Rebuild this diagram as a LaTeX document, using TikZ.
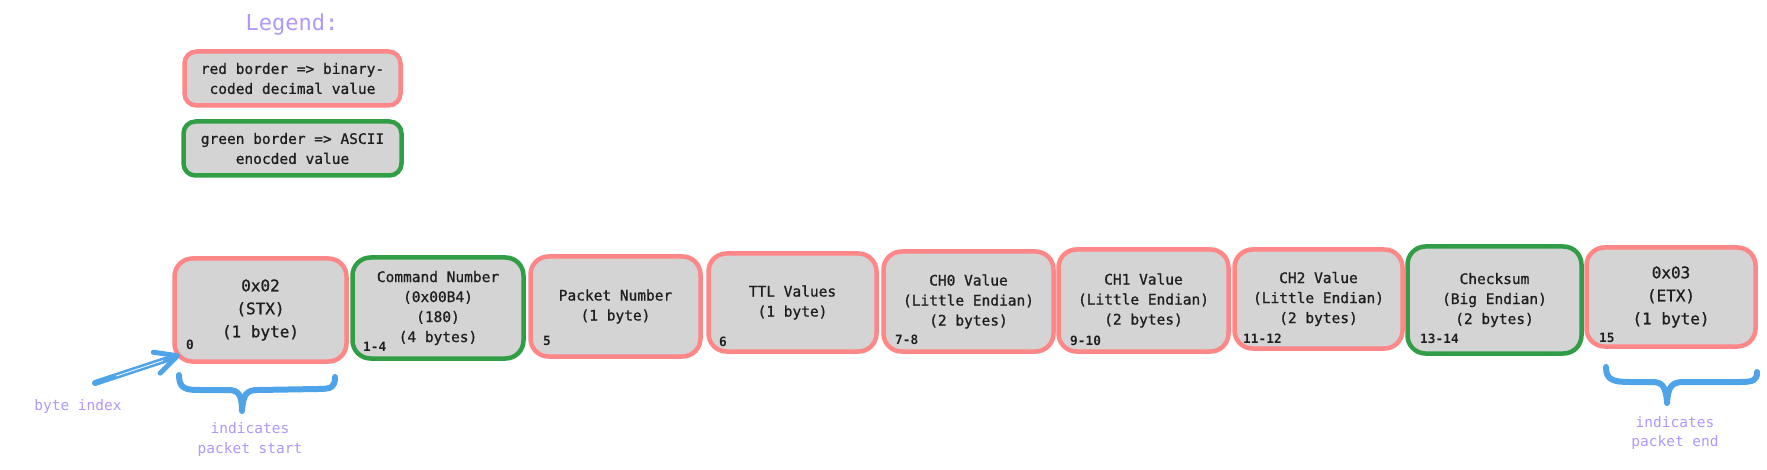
\documentclass[tikz,border=0pt]{standalone}
\usepackage{fontspec}
\newfontfamily\mono{DejaVu Sans Mono}
\newfontfamily\monomed[FakeBold=0.9]{DejaVu Sans Mono}
\usetikzlibrary{arrows.meta,calc}
\definecolor{redb}{HTML}{FF8787}
\definecolor{greenb}{HTML}{2F9E44}
\definecolor{boxfill}{HTML}{D4D4D4}
\definecolor{blueb}{HTML}{4FA3E8}
\definecolor{purp}{HTML}{B197FC}
\definecolor{ink}{HTML}{1E1E1E}
\begin{document}
\begin{tikzpicture}[x=1pt,y=-1pt,
  box/.style={draw, fill=boxfill, line width=4.5pt, rounded corners=18pt, align=center, inner sep=0pt,
    font=\monomed\fontsize{14.5}{20}\selectfont, text=ink},
  redbox/.style={box, draw=redb},
  greenbox/.style={box, draw=greenb},
  bigtext/.style={font=\monomed\fontsize{16}{23}\selectfont},
  idx/.style={anchor=west, inner sep=0pt, font=\mono\bfseries\fontsize{12.8}{14}\selectfont, text=ink},
  note/.style={text=purp, font=\mono\fontsize{14.5}{19.5}\selectfont, align=center, inner sep=0pt},
  brace/.style={draw=blueb, line width=6pt, line cap=round, line join=round}
]
\useasboundingbox (0,0) rectangle (1767,470);

% legend
\node[text=purp, font=\mono\fontsize{22}{26}\selectfont, inner sep=0pt] (legend) at (292,25) {Legend:};
\node[redbox, rounded corners=12pt, minimum width=216pt, minimum height=54pt] (lred) at (292.5,78.5)
  {red border => binary-\\coded decimal value};
\node[greenbox, rounded corners=12pt, minimum width=218pt, minimum height=54pt] (lgreen) at (292.5,148.5)
  {green border => ASCII\\enocded value};

% packet boxes
\node[redbox, bigtext, minimum width=172pt, minimum height=103pt] (b0) at (260.5,310) {0x02\\(STX)\\(1 byte)};
\node[greenbox, minimum width=171pt, minimum height=101pt] (b1) at (438,308) {Command Number\\(0x00B4)\\(180)\\(4 bytes)};
\node[redbox, minimum width=170pt, minimum height=100pt] (b2) at (615.5,306.5) {Packet Number\\(1 byte)};
\node[redbox, minimum width=168pt, minimum height=98pt] (b3) at (792.5,302.5) {TTL Values\\(1 byte)};
\node[redbox, minimum width=170pt, minimum height=100pt] (b4) at (968.5,301.5) {CH0 Value\\(Little Endian)\\(2 bytes)};
\node[redbox, minimum width=170pt, minimum height=102pt] (b5) at (1143.5,300.5) {CH1 Value\\(Little Endian)\\(2 bytes)};
\node[redbox, minimum width=168pt, minimum height=99pt] (b6) at (1318.5,299) {CH2 Value\\(Little Endian)\\(2 bytes)};
\node[greenbox, minimum width=174pt, minimum height=107pt] (b7) at (1494.5,300) {Checksum\\(Big Endian)\\(2 bytes)};
\node[redbox, bigtext, minimum width=169pt, minimum height=99pt] (b8) at (1671,297) {0x03\\(ETX)\\(1 byte)};

% byte indices
\node[idx] (i0) at (186,345) {0};
\node[idx] (i1) at (363,347) {1-4};
\node[idx] (i2) at (543,341) {5};
\node[idx] (i3) at (719,342) {6};
\node[idx] (i4) at (895,340) {7-8};
\node[idx] (i5) at (1070,341) {9-10};
\node[idx] (i6) at (1243,339) {11-12};
\node[idx] (i7) at (1420,339) {13-14};
\node[idx] (i8) at (1599,338) {15};

% byte index arrow
\node[note] (bidx) at (78,406) {byte index};
\coordinate (as) at (95,383);
\coordinate (at) at (180,355);
\draw[draw=blueb, line width=6pt, line cap=round,
  -{Straight Barb[length=22pt, width=22pt, line width=5pt, round]}] (as) -- (at);
\draw[white, line width=0.8pt] ($(as)!0.25!(at)$) -- ($(as)!0.8!(at)$);

% braces
\draw[brace] (179,375) .. controls (179,389) and (186,390) .. (200,390)
  -- (228,390) .. controls (238,390) and (242,394) .. (242,411)
  .. controls (243,394) and (247,390) .. (258,390)
  -- (318,389) .. controls (332,389) and (335,387) .. (335,377);
\node[note] (tstart) at (250,439.5) {indicates\\packet start};

\draw[brace] (1606,367) .. controls (1606,380) and (1613,382) .. (1630,382)
  -- (1652,382) .. controls (1662,382) and (1666,386) .. (1667,403)
  .. controls (1668,386) and (1672,382) .. (1684,382)
  -- (1740,382) .. controls (1754,382) and (1757,380) .. (1757,372);
\node[note] (tend) at (1675,433) {indicates\\packet end};
\end{tikzpicture}
\end{document}
